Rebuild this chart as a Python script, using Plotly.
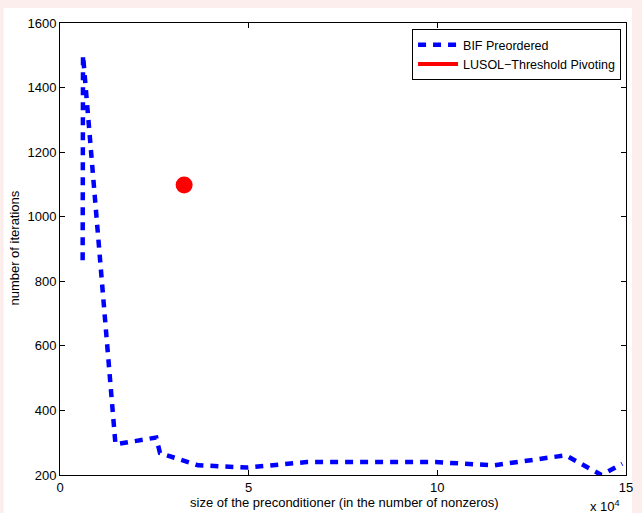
import plotly.graph_objects as go

# Iteration counts versus preconditioner size (nonzeros, in units of 1e4)
bif_size = [0.60, 0.61, 1.47, 2.55, 2.65, 3.66, 4.97, 6.54, 8.0, 9.95, 11.5, 13.4, 14.35, 14.9]
bif_iters = [865, 1500, 295, 316, 268, 230, 223, 240, 240, 240, 230, 261, 200, 235]

lusol_size = [3.29]
lusol_iters = [1098]

x_ticks = [0, 5, 10, 15]
y_ticks = [200, 400, 600, 800, 1000, 1200, 1400, 1600]

FONT = "Liberation Sans, Arial, Helvetica, sans-serif"
FS = 13

W, H = 642, 513
ML, MR, MT, MB = 60, 9, 23, 38
PW, PH = W - ML - MR, H - MT - MB


def px_x(p):
    return (p - ML) / PW


def px_y(p):
    return (H - MB - p) / PH


fig = go.Figure()

fig.add_trace(go.Scatter(
    x=bif_size, y=bif_iters, mode="lines", name="BIF Preordered",
    line=dict(color="#0000ff", width=4.5, dash="8px,7px"),
))

# legend entry for the LUSOL run (drawn as a line sample)
fig.add_trace(go.Scatter(
    x=lusol_size, y=lusol_iters, mode="lines", name="LUSOL\u2212Threshold Pivoting",
    line=dict(color="#ff0000", width=4), legendgroup="lusol",
))
# the LUSOL run itself, a single point
fig.add_trace(go.Scatter(
    x=lusol_size, y=lusol_iters, mode="markers", showlegend=False,
    marker=dict(color="#ff0000", size=17, line=dict(width=0)), legendgroup="lusol",
))

axis_common = dict(
    showline=True, linecolor="black", linewidth=1, mirror="ticks",
    ticks="inside", ticklen=5, tickcolor="black", showgrid=False, zeroline=False,
    tickfont=dict(family=FONT, size=FS, color="black"),
)

fig.update_xaxes(range=[0, 15], tickvals=x_ticks, ticktext=[str(v) for v in x_ticks], **axis_common)
fig.update_yaxes(range=[200, 1600], tickvals=y_ticks, ticktext=[str(v) for v in y_ticks], **axis_common)

fig.update_layout(
    width=W, height=H,
    margin=dict(l=ML, r=MR, t=MT, b=MB),
    paper_bgcolor="#fdeeee",
    plot_bgcolor="white",
    font=dict(family=FONT, size=FS, color="black"),
    legend=dict(
        x=px_x(628), y=px_y(29), xanchor="right", yanchor="top",
        bgcolor="white", bordercolor="black", borderwidth=1,
        font=dict(family=FONT, size=12.5, color="black"),
        tracegroupgap=0, itemwidth=40,
    ),
    shapes=[dict(
        type="rect", xref="paper", yref="paper", layer="below",
        x0=px_x(3), x1=px_x(639), y0=px_y(H + 5), y1=px_y(8),
        fillcolor="white", line=dict(width=0),
    )],
    annotations=[
        dict(text="size of the preconditioner (in the number of nonzeros)",
             xref="paper", yref="paper", x=px_x(348), y=px_y(502),
             xanchor="center", yanchor="middle", showarrow=False,
             font=dict(family=FONT, size=FS, color="black")),
        dict(text="number of iterations",
             xref="paper", yref="paper", x=px_x(13), y=px_y(248),
             xanchor="center", yanchor="middle", showarrow=False, textangle=-90,
             font=dict(family=FONT, size=FS, color="black")),
        dict(text="x 10<sup>4</sup>",
             xref="paper", yref="paper", x=px_x(612), y=px_y(506),
             xanchor="center", yanchor="middle", showarrow=False,
             font=dict(family=FONT, size=FS, color="black")),
    ],
)

fig.write_html("out.html")
